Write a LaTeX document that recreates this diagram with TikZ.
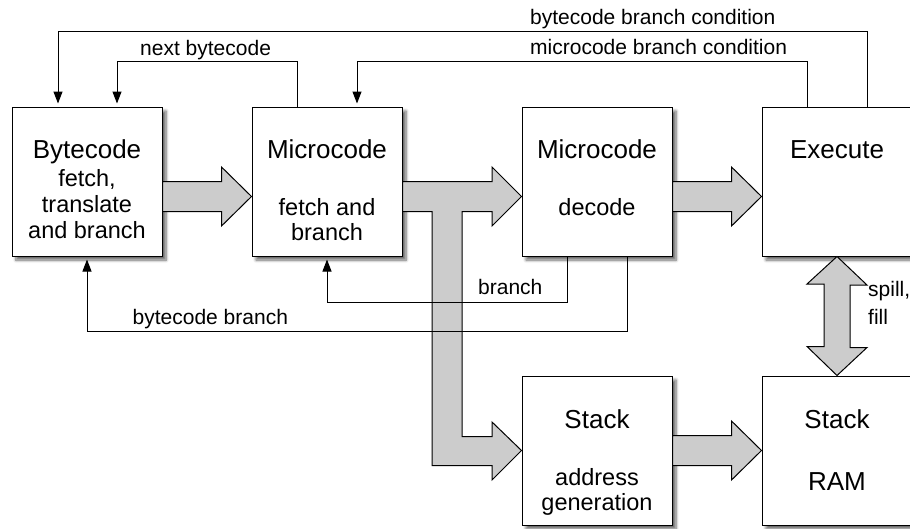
\documentclass[tikz,border=0pt]{standalone}
\usepackage{fontspec}
\setmainfont{Liberation Sans}
\usetikzlibrary{arrows.meta,calc,shadows.blur}

\definecolor{busgray}{RGB}{204,204,204}

\tikzset{
  block/.style={draw=black, line width=1pt, fill=white, minimum width=150pt,
    minimum height=149pt, inner sep=0pt,
    blur shadow={shadow xshift=4pt, shadow yshift=-4pt, shadow blur radius=3pt,
      shadow blur steps=6, shadow opacity=60}},
  ttl/.style={font=\fontsize{26}{26}\selectfont, inner sep=0pt, anchor=base},
  sub/.style={font=\fontsize{23.5}{23.5}\selectfont, inner sep=0pt, anchor=base},
  lbl/.style={font=\fontsize{21}{21}\selectfont, inner sep=0pt, anchor=base west},
  sig/.style={draw=black, line width=1pt, -{Triangle[length=12pt,width=9pt]},
    shorten >=3pt},
  fat/.style={draw=black, line width=1pt, fill=busgray, line join=miter}
}

% wide horizontal data path between two anchors (#3 = vertical offset of its axis)
\newcommand{\widepath}[3]{%
  \draw[fat] ($(#1)+(0,#3-15)$) -- ($(#2)+(-30,#3-15)$) -- ($(#2)+(-30,#3-29.5)$)
    -- ($(#2)+(0,#3)$) -- ($(#2)+(-30,#3+29.5)$) -- ($(#2)+(-30,#3+15)$)
    -- ($(#1)+(0,#3+15)$) -- cycle;}

\begin{document}
\begin{tikzpicture}[x=1pt, y=-1pt]
\useasboundingbox (0,0) rectangle (910,528);

% pipeline blocks
\node[block] (bc)   at (87,181.5)  {};
\node[block] (mf)   at (327,181.5) {};
\node[block] (dec)  at (597,181.5) {};
\node[block] (exe)  at (837,181.5) {};
\node[block] (sag)  at (597,450.5) {};
\node[block] (sram) at (837,450.5) {};

% block captions
\node[ttl] (bc1) at (87,158.3) {Bytecode};
\node[sub] (bc2) at (87,186.5) {fetch,};
\node[sub] (bc3) at (87,212.5) {translate};
\node[sub] (bc4) at (87,238.5) {and branch};

\node[ttl] (mf1) at (327,158.3) {Microcode};
\node[sub] (mf2) at (327,215) {fetch and};
\node[sub] (mf3) at (327,240.5) {branch};

\node[ttl] (dec1) at (597,158.3) {Microcode};
\node[sub] (dec2) at (597,215) {decode};

\node[ttl] (exe1) at (837,158.3) {Execute};

\node[ttl] (sag1) at (597,428.3) {Stack};
\node[sub] (sag2) at (597,485) {address};
\node[sub] (sag3) at (597,510.5) {generation};

\node[ttl] (sram1) at (837,428.3) {Stack};
\node[ttl] (sram2) at (837,490) {RAM};

% wide data paths
\widepath{bc.east}{mf.west}{15}
\widepath{dec.east}{exe.west}{15}
\widepath{sag.east}{sram.west}{0}

% microcode fetch output, split to decode and stack address generation
\draw[fat] ($(mf.east)+(0,0)$) -- (492,181.5) -- (492,167) -- ($(dec.west)+(0,15)$)
  -- (492,226) -- (492,211.5) -- (462,211.5) -- (462,436.5) -- (492,436.5)
  -- (492,422) -- (sag.west) -- (492,480) -- (492,465.5) -- (432,465.5)
  -- (432,211.5) -- ($(mf.east)+(0,30)$) -- cycle;

% spill / fill path between execute and stack RAM
\draw[fat] (exe.south) -- ++(30,28.5) -- ++(-17,0) -- ++(0,62.5) -- ++(17,0)
  -- (sram.north) -- ++(-30,-29) -- ++(17,0) -- ++(0,-62.5) -- ++(-17,0) -- cycle;

% control signals
\draw[sig] (867.7,0 |- exe.north) -- (867.7,31) -| (58,0 |- bc.north);
\draw[sig] (807,0 |- exe.north) -- (807,61) -| (357,0 |- mf.north);
\draw[sig] (297,0 |- mf.north) -- (297,61) -| (117,0 |- bc.north);
\draw[sig] (567,0 |- dec.south) -- (567,302) -| (mf.south);
\draw[sig] (627,0 |- dec.south) -- (627,331) -| (bc.south);

% signal labels
\node[lbl] (l1) at (530,24)    {bytecode branch condition};
\node[lbl] (l2) at (530,54)    {microcode branch condition};
\node[lbl] (l3) at (140,55)    {next bytecode};
\node[lbl] (l4) at (478,294)   {branch};
\node[lbl] (l5) at (132.5,324) {bytecode branch};
\node[lbl] (l6) at (868,296.5) {spill,};
\node[lbl] (l7) at (868,324)   {fill};
\end{tikzpicture}
\end{document}
